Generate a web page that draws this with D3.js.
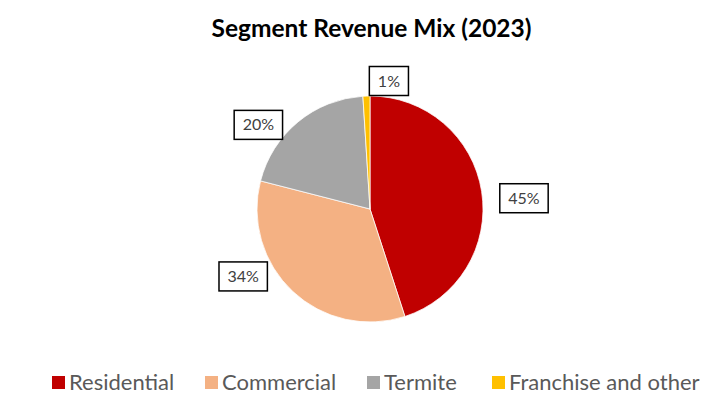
<!DOCTYPE html>
<html>
<head>
<meta charset="utf-8">
<script src="https://cdn.jsdelivr.net/npm/d3@7"></script>
<style>
  html, body { margin: 0; padding: 0; background: #fff; }
  svg { display: block; }
</style>
</head>
<body>
<svg id="chart" width="715" height="396"></svg>
<script>
// ---- data ----
const categories = ["Residential", "Commercial", "Termite", "Franchise and other"];
const values = [45, 34, 20, 1];
const colors = ["#C00000", "#F4B183", "#A5A5A5", "#FFC000"];
const title = "Segment Revenue Mix (2023)";

// ---- layout (label placement as polar offsets: angle in degrees, radius factor) ----
const labelAngles = [86, 242, 307, 8.4];
const labelRadii = [1.366, 1.271, 1.237, 1.145];

const W = 715, H = 396;
const cx = 370, cy = 209, R = 113;
const font = "Lato, 'Open Sans', sans-serif";

const svg = d3.select("#chart");

svg.append("text")
  .attr("x", 371.5).attr("y", 37)
  .attr("text-anchor", "middle")
  .attr("font-family", font)
  .attr("font-weight", "bold")
  .attr("font-size", 24.5)
  .attr("fill", "#000")
  .text(title);

const data = categories.map((c, i) => ({ name: c, value: values[i], color: colors[i] }));
const pie = d3.pie().value(d => d.value).sort(null);
const arc = d3.arc().innerRadius(0).outerRadius(R);
const arcs = pie(data);

const g = svg.append("g").attr("transform", `translate(${cx},${cy})`);
g.selectAll("path.slice").data(arcs).join("path")
  .attr("class", "slice")
  .attr("d", arc)
  .attr("fill", d => d.data.color)
  .attr("stroke", "#fff")
  .attr("stroke-width", 0.75);

const total = d3.sum(values);
const fmt = d3.format(".0%");
const lab = g.selectAll("g.lab").data(arcs).join("g").attr("class", "lab")
  .attr("transform", (d, i) => {
    const a = labelAngles[i] * Math.PI / 180;
    const r = R * labelRadii[i];
    return `translate(${r * Math.sin(a)},${-r * Math.cos(a)})`;
  });
lab.each(function(d) {
  const sel = d3.select(this);
  const txt = fmt(d.data.value / total);
  const t = sel.append("text")
    .attr("text-anchor", "middle")
    .attr("dy", "0.35em")
    .attr("font-family", font)
    .attr("font-size", 16)
    .attr("fill", "#404040")
    .text(txt);
  const w = t.node().getComputedTextLength() + 17;
  const h = 29;
  sel.insert("rect", "text")
    .attr("x", -w / 2).attr("y", -h / 2)
    .attr("width", w).attr("height", h)
    .attr("fill", "#fff")
    .attr("stroke", "#000")
    .attr("stroke-width", 1.5);
});

// ---- legend ----
const legend = svg.append("g");
const legendX = [52, 205, 367, 492];
const items = legend.selectAll("g").data(data).join("g")
  .attr("transform", (d, i) => `translate(${legendX[i]},382.5)`);
items.append("rect")
  .attr("x", 0).attr("y", -6.5).attr("width", 13).attr("height", 13)
  .attr("fill", d => d.color);
items.append("text")
  .attr("x", 17).attr("y", 7)
  .attr("font-family", font)
  .attr("font-size", 22)
  .attr("fill", "#595959")
  .text(d => d.name);
</script>
</body>
</html>
